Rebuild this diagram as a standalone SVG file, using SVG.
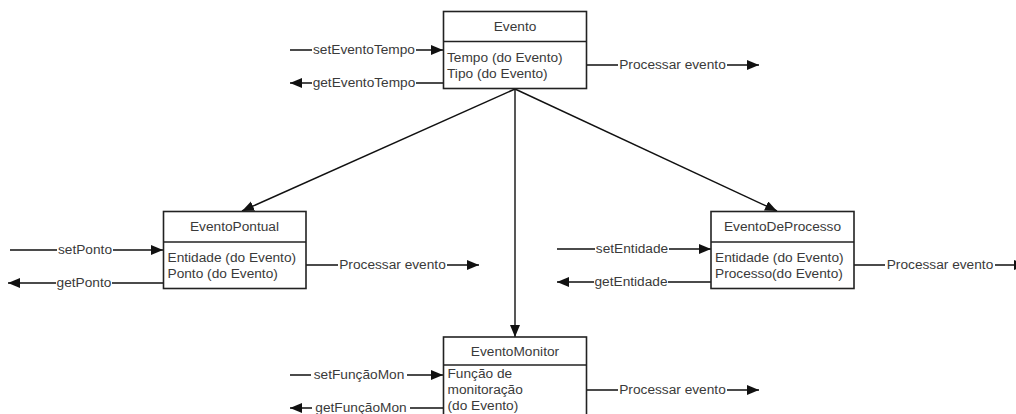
<svg xmlns="http://www.w3.org/2000/svg" width="1016" height="414" viewBox="0 0 1016 414">
  <defs>
    <marker id="arrow" markerUnits="userSpaceOnUse" markerWidth="13" markerHeight="11" refX="12" refY="5" orient="auto">
      <path d="M0,0 L12,5 L0,10 z" fill="#111"/>
    </marker>
    <style>
      .box { fill: #fff; stroke: #222; stroke-width: 1.6; }
      .sep { stroke: #222; stroke-width: 1.6; }
      .wire { fill: none; stroke: #111; stroke-width: 1.4; marker-end: url(#arrow); }
      .title { font-family: "Liberation Sans", Arial, sans-serif; font-size: 13.7px; fill: #3a3a3a; text-anchor: middle; }
      .attr { font-family: "Liberation Sans", Arial, sans-serif; font-size: 13.7px; fill: #3a3a3a; }
      .lbl { font-family: "Liberation Sans", Arial, sans-serif; font-size: 13.7px; fill: #3a3a3a; text-anchor: middle; }
    </style>
  </defs>
  <rect width="1016" height="414" fill="#fff"/>

  <!-- inheritance links and message arrows (message lines break around their labels) -->
  <g id="connectors">
    <line class="wire" x1="515" y1="89" x2="242" y2="211"/>
    <line class="wire" x1="515" y1="89" x2="777" y2="211"/>
    <line class="wire" x1="515" y1="89" x2="515" y2="337"/>

    <!-- Evento -->
    <path class="wire" d="M290,50 H312 M416,50 H443"/>
    <text class="lbl" x="364" y="54">setEventoTempo</text>
    <path class="wire" d="M443,83 H416 M312,83 H290"/>
    <text class="lbl" x="364" y="87">getEventoTempo</text>
    <path class="wire" d="M587,65 H618 M727,65 H759"/>
    <text class="lbl" x="672.5" y="69">Processar evento</text>

    <!-- EventoPontual -->
    <path class="wire" d="M10,250 H57 M113,250 H163"/>
    <text class="lbl" x="85" y="254">setPonto</text>
    <path class="wire" d="M163,283 H112 M56,283 H8"/>
    <text class="lbl" x="84" y="287">getPonto</text>
    <path class="wire" d="M306,265 H338 M447,265 H479"/>
    <text class="lbl" x="392.5" y="269">Processar evento</text>

    <!-- EventoDeProcesso -->
    <path class="wire" d="M557,249 H595 M669,249 H711"/>
    <text class="lbl" x="632" y="253">setEntidade</text>
    <path class="wire" d="M711,282 H668 M594,282 H557"/>
    <text class="lbl" x="631" y="286">getEntidade</text>
    <path class="wire" d="M854,265 H885 M995,265 H1026"/>
    <text class="lbl" x="940" y="269">Processar evento</text>

    <!-- EventoMonitor -->
    <path class="wire" d="M290,375 H311 M407,375 H443"/>
    <text class="lbl" x="359" y="379">setFunçãoMon</text>
    <path class="wire" d="M443,408 H410 M312,408 H290"/>
    <text class="lbl" x="361" y="412">getFunçãoMon</text>
    <path class="wire" d="M587,390 H618 M727,390 H759"/>
    <text class="lbl" x="672.5" y="394">Processar evento</text>
  </g>

  <g id="evento">
    <rect class="box" x="443.5" y="11.5" width="143" height="77"/>
    <line class="sep" x1="443.5" y1="41.5" x2="586.5" y2="41.5"/>
    <text class="title" x="515" y="31">Evento</text>
    <text class="attr" x="447" y="62">Tempo (do Evento)</text>
    <text class="attr" x="447" y="77.5">Tipo (do Evento)</text>
  </g>

  <g id="eventoPontual">
    <rect class="box" x="163.5" y="211.5" width="142.5" height="77"/>
    <line class="sep" x1="163.5" y1="242" x2="306" y2="242"/>
    <text class="title" x="234.5" y="231">EventoPontual</text>
    <text class="attr" x="167.5" y="262">Entidade (do Evento)</text>
    <text class="attr" x="167.5" y="278">Ponto (do Evento)</text>
  </g>

  <g id="eventoDeProcesso">
    <rect class="box" x="711" y="211.5" width="143" height="77"/>
    <line class="sep" x1="711" y1="242" x2="854" y2="242"/>
    <text class="title" x="782.5" y="231">EventoDeProcesso</text>
    <text class="attr" x="715" y="262">Entidade (do Evento)</text>
    <text class="attr" x="715" y="278">Processo(do Evento)</text>
  </g>

  <g id="eventoMonitor">
    <rect class="box" x="443.5" y="337" width="143" height="100"/>
    <line class="sep" x1="443.5" y1="365" x2="586.5" y2="365"/>
    <text class="title" x="515" y="355.5">EventoMonitor</text>
    <text class="attr" x="447.5" y="377.5">Função de</text>
    <text class="attr" x="447.5" y="393.5">monitoração</text>
    <text class="attr" x="447.5" y="409.5">(do Evento)</text>
  </g>
</svg>
